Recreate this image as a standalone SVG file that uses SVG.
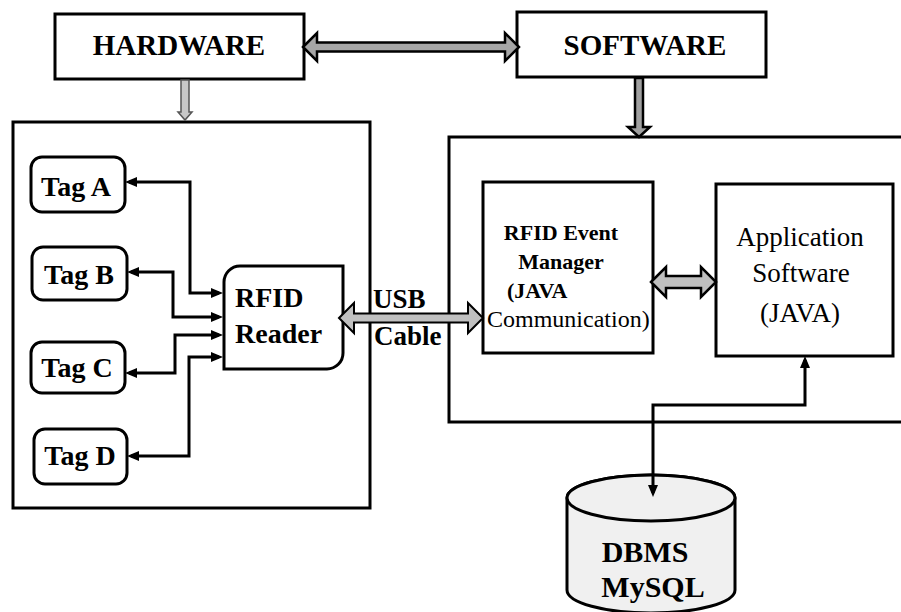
<svg xmlns="http://www.w3.org/2000/svg" width="901" height="612" viewBox="0 0 901 612">
<style>
.box{fill:#fff;stroke:#000;stroke-width:3}
.b{font-family:"Liberation Serif","Times New Roman",serif;font-weight:bold;fill:#000}
.r{font-family:"Liberation Serif","Times New Roman",serif;fill:#000}
.conn{fill:none;stroke:#000;stroke-width:3}
.blk{stroke:#000;stroke-linejoin:miter}
</style>
<defs>
<marker id="ah" viewBox="0 0 12 10" refX="8" refY="5" markerWidth="12" markerHeight="10" markerUnits="userSpaceOnUse" orient="auto-start-reverse">
<path d="M0,0 L12,5 L0,10 z" fill="#000"/>
</marker>
</defs>
<rect width="901" height="612" fill="#fff"/>

<g id="hardware">
<rect class="box" x="55" y="14" width="249" height="65"/>
<text class="b" x="179" y="55" font-size="29" text-anchor="middle">HARDWARE</text>
</g>
<g id="software">
<rect class="box" x="517" y="12" width="249" height="65"/>
<text class="b" x="645" y="55" font-size="29" text-anchor="middle">SOFTWARE</text>
</g>
<g id="hardware-container">
<rect class="box" x="13" y="122" width="357" height="386"/>
</g>
<g id="software-container">
<rect class="box" x="449" y="137" width="470" height="285"/>
</g>
<g id="tag-a">
<rect class="box" x="31" y="157" width="94" height="55" rx="11"/>
<text class="b" x="76" y="196" font-size="28" text-anchor="middle">Tag A</text>
</g>
<g id="tag-b">
<rect class="box" x="32" y="247" width="95" height="53" rx="11"/>
<text class="b" x="79" y="284" font-size="28" text-anchor="middle">Tag B</text>
</g>
<g id="tag-c">
<rect class="box" x="31" y="342" width="94" height="51" rx="11"/>
<text class="b" x="77" y="377" font-size="28" text-anchor="middle">Tag C</text>
</g>
<g id="tag-d">
<rect class="box" x="34" y="429" width="93" height="55" rx="11"/>
<text class="b" x="80" y="465" font-size="28" text-anchor="middle">Tag D</text>
</g>
<g id="rfid-reader">
<path class="box" d="M240,266 H343 V353 A16,16 0 0 1 327,369 H224 V282 A16,16 0 0 1 240,266 Z"/>
<text class="b" x="235" y="307" font-size="28">RFID</text>
<text class="b" x="235" y="343" font-size="28">Reader</text>
</g>
<g id="event-manager">
<rect class="box" x="483" y="182" width="170" height="171"/>
<text class="b" x="561" y="240" font-size="22" text-anchor="middle">RFID Event</text>
<text class="b" x="561" y="269" font-size="22" text-anchor="middle">Manager</text>
<text class="b" x="507" y="298" font-size="22">(JAVA</text>
<text class="r" x="487" y="327" font-size="24">Communication)</text>
</g>
<g id="application">
<rect class="box" x="716" y="184" width="177" height="172"/>
<text class="r" x="800" y="246" font-size="27" text-anchor="middle">Application</text>
<text class="r" x="801" y="282" font-size="27" text-anchor="middle">Software</text>
<text class="r" x="800" y="322" font-size="27" text-anchor="middle">(JAVA)</text>
</g>
<g id="dbms">
<path d="M567,498 V590 A84,23 0 0 0 735,590 V498 A84,23 0 0 0 567,498 Z" fill="#f0f0f0" stroke="#000" stroke-width="3"/>
<ellipse cx="651" cy="498" rx="84" ry="23" fill="#f0f0f0" stroke="#000" stroke-width="3"/>
<text class="b" x="645" y="562" font-size="30" text-anchor="middle">DBMS</text>
<text class="b" x="653" y="597" font-size="30" text-anchor="middle">MySQL</text>
</g>

<g id="connectors">
<polygon class="blk" points="303,47 317,33 317,42.5 505,42.5 505,33 519,47 505,61 505,51.5 317,51.5 317,61" fill="#a6a6a6" stroke-width="2.5"/>
<polygon points="181,80 189,80 189,112 192,112 185,120 178,112 181,112" fill="#c8c8c8" stroke="#555" stroke-width="1.5"/>
<polygon class="blk" points="635,78 643,78 643,127 650,127 639,137 628,127 635,127" fill="#a0a0a0" stroke-width="2.5"/>
<path class="conn" d="M129,182 H190 V293 H219" marker-start="url(#ah)" marker-end="url(#ah)"/>
<path class="conn" d="M131,272 H173 V317 H219" marker-start="url(#ah)" marker-end="url(#ah)"/>
<path class="conn" d="M129,373 H175 V335 H219" marker-start="url(#ah)" marker-end="url(#ah)"/>
<path class="conn" d="M131,456 H189 V357 H219" marker-start="url(#ah)" marker-end="url(#ah)"/>
<polygon class="blk" points="339,318 354,303 354,313.5 468,313.5 468,303 483,318 468,333 468,322.5 354,322.5 354,333" fill="#c0c0c0" stroke-width="2"/>
<polygon class="blk" points="651,282 666,267 666,276 701,276 701,267 716,282 701,297 701,288 666,288 666,297" fill="#bfbfbf" stroke-width="2.5"/>
<path class="conn" d="M805,360 V405 H653 V493" marker-start="url(#ah)" marker-end="url(#ah)"/>
</g>

<g id="usb-label">
<text class="b" x="373" y="308" font-size="27">USB</text>
<text class="b" x="374" y="345" font-size="27">Cable</text>
</g>
</svg>
